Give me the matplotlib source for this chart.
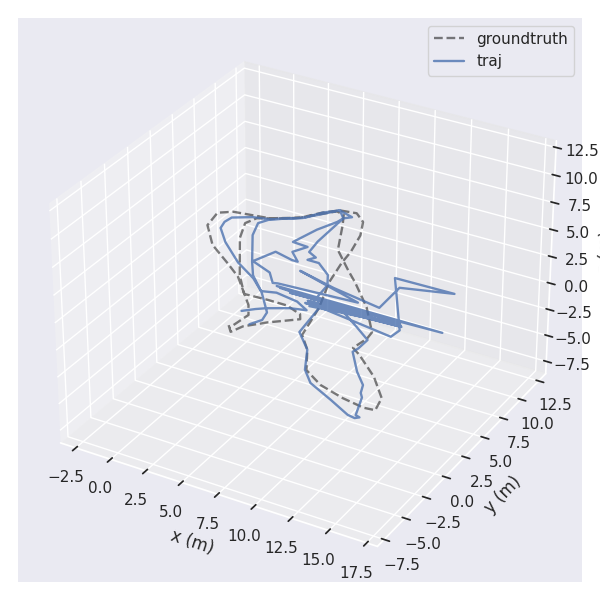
import matplotlib
matplotlib.use('Agg')
import matplotlib.pyplot as plt
import seaborn as sns

gt_x = [5.4,5.9,6.2,7.2,8.7,8.4,7.2,5.9,4.3,2.9,0.5,-0.2,0.1,1.2,2.4,3.3,4.1,5.2,6.1,6.8,7.3,7.5,8.0,9.0,9.4,9.7,10.8,11.9,13.4,15.2,16.7,17.4,17.1,15.6,13.7,13.0,13.2,13.1,11.4,9.4,8.3,6.5,5.2,4.6,4.0,2.4,0.8,-1.6,-2.4,-2.1,-0.5,1.5,2.9,5.2,5.8,5.6]
gt_y = [-3.4,-4.0,-3.1,-2.0,-0.7,-0.2,0.3,0.3,0.2,2.0,6.0,7.8,8.7,9.3,10.1,11.4,12.2,12.4,11.6,10.0,7.9,6.4,4.0,1.0,-0.8,-2.2,-3.5,-5.5,-6.5,-7.1,-7.4,-7.3,-6.0,-4.2,-2.5,-2.0,-0.7,0.1,2.5,4.7,5.8,7.7,10.6,11.8,12.0,10.1,9.1,8.7,8.1,6.4,4.4,2.9,1.8,-0.8,-1.8,-3.6]
traj_x = [5.2,5.8,6.3,7.5,8.5,7.5,5.9,5.0,4.0,3.6,2.7,1.0,0.5,0.9,2.6,3.3,4.1,5.2,4.8,4.7,4.1,3.6,4.7,4.2,5.1,4.7,3.3,2.7,4.3,5.1,5.4,10.7,5.8,8.6,12.1,12.0,15.2,11.2,14.4,14.3,9.0,9.4,10.8,11.8,12.8,14.7,16.3,16.8,17.0,16.7,16.1,15.8,15.5,14.5,13.2,13.3,13.3,12.0,10.1,5.5,16.7,6.6,14.0,5.8,13.9,8.0,14.2,8.0,14.3,8.2,14.1,8.4,8.1,7.5,6.3,5.5,5.8,5.1,4.9,4.8,4.1,2.6,0.9,-0.2,-1.3,-1.4,-1.2,-0.0,2.0,3.8,5.1,6.6,6.8,6.4]
traj_y = [-1.6,-1.0,-0.6,0.1,0.4,1.0,1.3,1.0,2.0,2.4,3.8,6.7,8.2,9.0,10.2,11.4,12.2,11.8,11.4,10.8,9.3,7.2,7.1,6.1,5.2,5.2,5.6,3.9,3.2,2.2,2.3,2.7,4.3,3.5,2.8,5.5,6.5,6.4,1.1,0.2,1.1,-2.0,-3.5,-5.5,-6.6,-7.6,-8.5,-8.6,-8.4,-8.3,-6.5,-6.1,-5.3,-4.2,-2.4,-1.9,-0.8,0.2,1.6,2.0,2.1,1.7,1.9,1.9,1.5,1.1,1.6,1.4,1.5,1.2,1.7,0.9,3.6,4.7,5.7,5.7,6.2,6.6,8.0,11.4,12.2,10.2,9.0,8.7,8.0,7.3,6.5,5.1,3.3,2.1,0.9,-1.0,-1.9,-2.7]
z_level = 2.5

sns.set_theme(style='darkgrid')
fig = plt.figure(figsize=(6, 6), dpi=100)
ax = fig.add_subplot(111, projection='3d')
fig.subplots_adjust(left=0.03, right=0.97, bottom=0.03, top=0.97)

ax.plot(gt_x, gt_y, z_level, '--', color='black', alpha=0.5, linewidth=1.7, label='groundtruth')
ax.plot(traj_x, traj_y, z_level, color='#4c72b0', alpha=0.8, linewidth=1.7, label='traj')

ax.set_xlim(-3.6, 18.2)
ax.set_ylim(-8.3, 13.5)
ax.set_zlim(-8.7, 13.1)
ax.set_xlabel('x (m)')
ax.set_ylabel('y (m)')
ax.set_zlabel('z (m)')
ax.legend()

fig.savefig('out.png', dpi=100)
